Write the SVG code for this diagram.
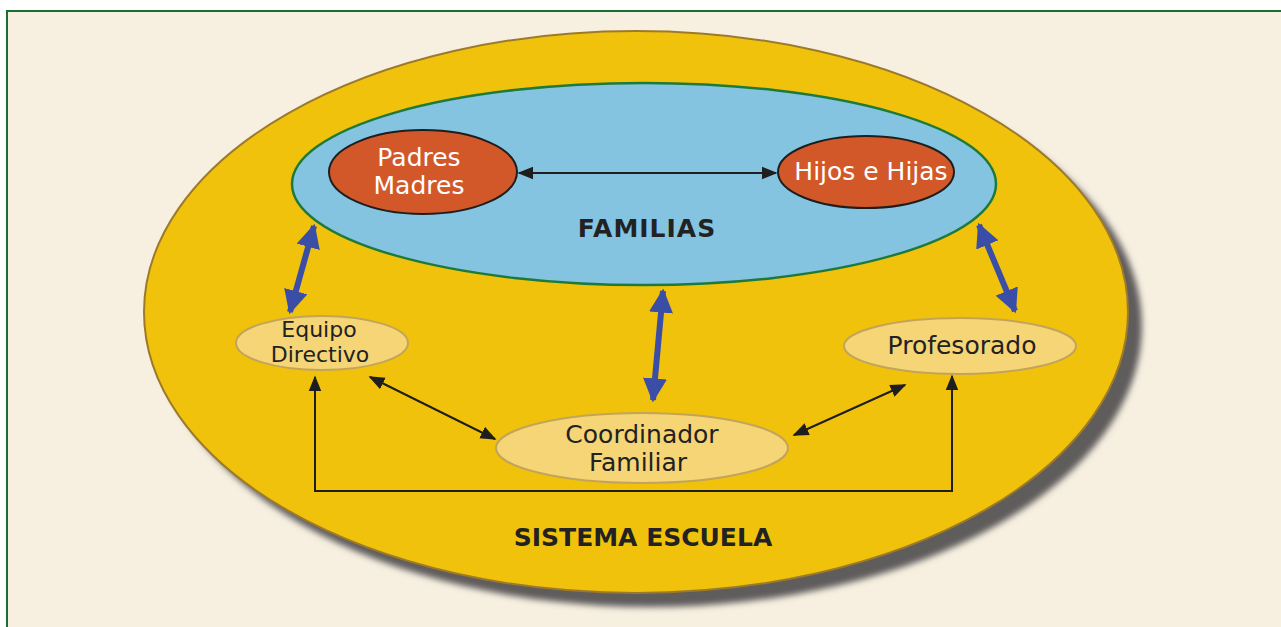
<svg xmlns="http://www.w3.org/2000/svg" width="1281" height="627" viewBox="0 0 1281 627">
<style>
.lbl{font-family:"DejaVu Sans",Verdana,sans-serif;font-size:25px;text-anchor:middle}
.w{fill:#ffffff}
.d{fill:#222222}
.b{font-weight:bold;font-size:25px;fill:#222222}
.sm{stroke:#c2a45a;stroke-width:2;fill:#f5d575}
.red{fill:#d2582a;stroke:#1e1e1e;stroke-width:2}
.blue{stroke:#3b4ea7;stroke-width:6;fill:none;marker-start:url(#bs);marker-end:url(#be)}
.blk{stroke:#1e1e1e;stroke-width:2;fill:none}
</style>
<defs>
<filter id="sh" x="-10%" y="-10%" width="120%" height="120%">
<feGaussianBlur stdDeviation="3"/>
</filter>
<marker id="be" viewBox="0 0 10 10" refX="9" refY="5" markerWidth="4" markerHeight="4" orient="auto" markerUnits="strokeWidth">
<path d="M0,0 L10,5 L0,10 z" fill="#3b4ea7"/>
</marker>
<marker id="bs" viewBox="0 0 10 10" refX="1" refY="5" markerWidth="4" markerHeight="4" orient="auto" markerUnits="strokeWidth">
<path d="M10,0 L0,5 L10,10 z" fill="#3b4ea7"/>
</marker>
<marker id="ke" viewBox="0 0 10 10" refX="9" refY="5" markerWidth="8" markerHeight="8" orient="auto" markerUnits="strokeWidth">
<path d="M0,1 L10,5 L0,9 z" fill="#1e1e1e"/>
</marker>
<marker id="ks" viewBox="0 0 10 10" refX="1" refY="5" markerWidth="8" markerHeight="8" orient="auto" markerUnits="strokeWidth">
<path d="M10,1 L0,5 L10,9 z" fill="#1e1e1e"/>
</marker>
</defs>
<rect x="0" y="0" width="1281" height="627" fill="#ffffff"/>
<rect x="7" y="11" width="1280" height="630" fill="#f7f0e1" stroke="#1a6e35" stroke-width="2"/>
<g id="sistema">
<ellipse cx="650" cy="326" rx="492" ry="281" fill="#5e5c5c" filter="url(#sh)"/>
<ellipse cx="636" cy="312" rx="492" ry="281" fill="#f0c20c" stroke="#9c7a2c" stroke-width="2"/>
<text class="lbl b" x="643" y="546">SISTEMA ESCUELA</text>
</g>
<g id="familias">
<ellipse cx="644" cy="184" rx="352" ry="101" fill="#85c4e1" stroke="#1e7a3a" stroke-width="2.5"/>
<text class="lbl b" x="647" y="237" letter-spacing="1">FAMILIAS</text>
</g>
<g id="padres">
<ellipse class="red" cx="423" cy="172" rx="94" ry="42"/>
<text class="lbl w" x="419" y="166">Padres</text>
<text class="lbl w" x="419" y="194">Madres</text>
</g>
<g id="hijos">
<ellipse class="red" cx="866" cy="172" rx="88" ry="36"/>
<text class="lbl w" x="871" y="180">Hijos e Hijas</text>
</g>
<g id="equipo">
<ellipse class="sm" cx="322" cy="343" rx="86" ry="27"/>
<text class="lbl d" x="319" y="337" style="font-size:22px">Equipo</text>
<text class="lbl d" x="320" y="362" style="font-size:22px">Directivo</text>
</g>
<g id="profesorado">
<ellipse class="sm" cx="960" cy="346" rx="116" ry="28"/>
<text class="lbl d" x="962" y="354">Profesorado</text>
</g>
<g id="coordinador">
<ellipse class="sm" cx="642" cy="448" rx="146" ry="35"/>
<text class="lbl d" x="642" y="443">Coordinador</text>
<text class="lbl d" x="638" y="471">Familiar</text>
</g>
<g id="connectors">
<line class="blk" x1="519" y1="173" x2="776" y2="173" marker-start="url(#ks)" marker-end="url(#ke)"/>
<line class="blue" x1="290" y1="312" x2="314" y2="226"/>
<line class="blue" x1="653" y1="400" x2="663" y2="291"/>
<line class="blue" x1="1015" y1="311" x2="979" y2="225"/>
<line class="blk" x1="370" y1="377" x2="495" y2="439" marker-start="url(#ks)" marker-end="url(#ke)"/>
<line class="blk" x1="794" y1="435" x2="905" y2="385" marker-start="url(#ks)" marker-end="url(#ke)"/>
<polyline class="blk" points="315,377 315,491 952,491 952,376" marker-start="url(#ks)" marker-end="url(#ke)"/>
</g>
</svg>
